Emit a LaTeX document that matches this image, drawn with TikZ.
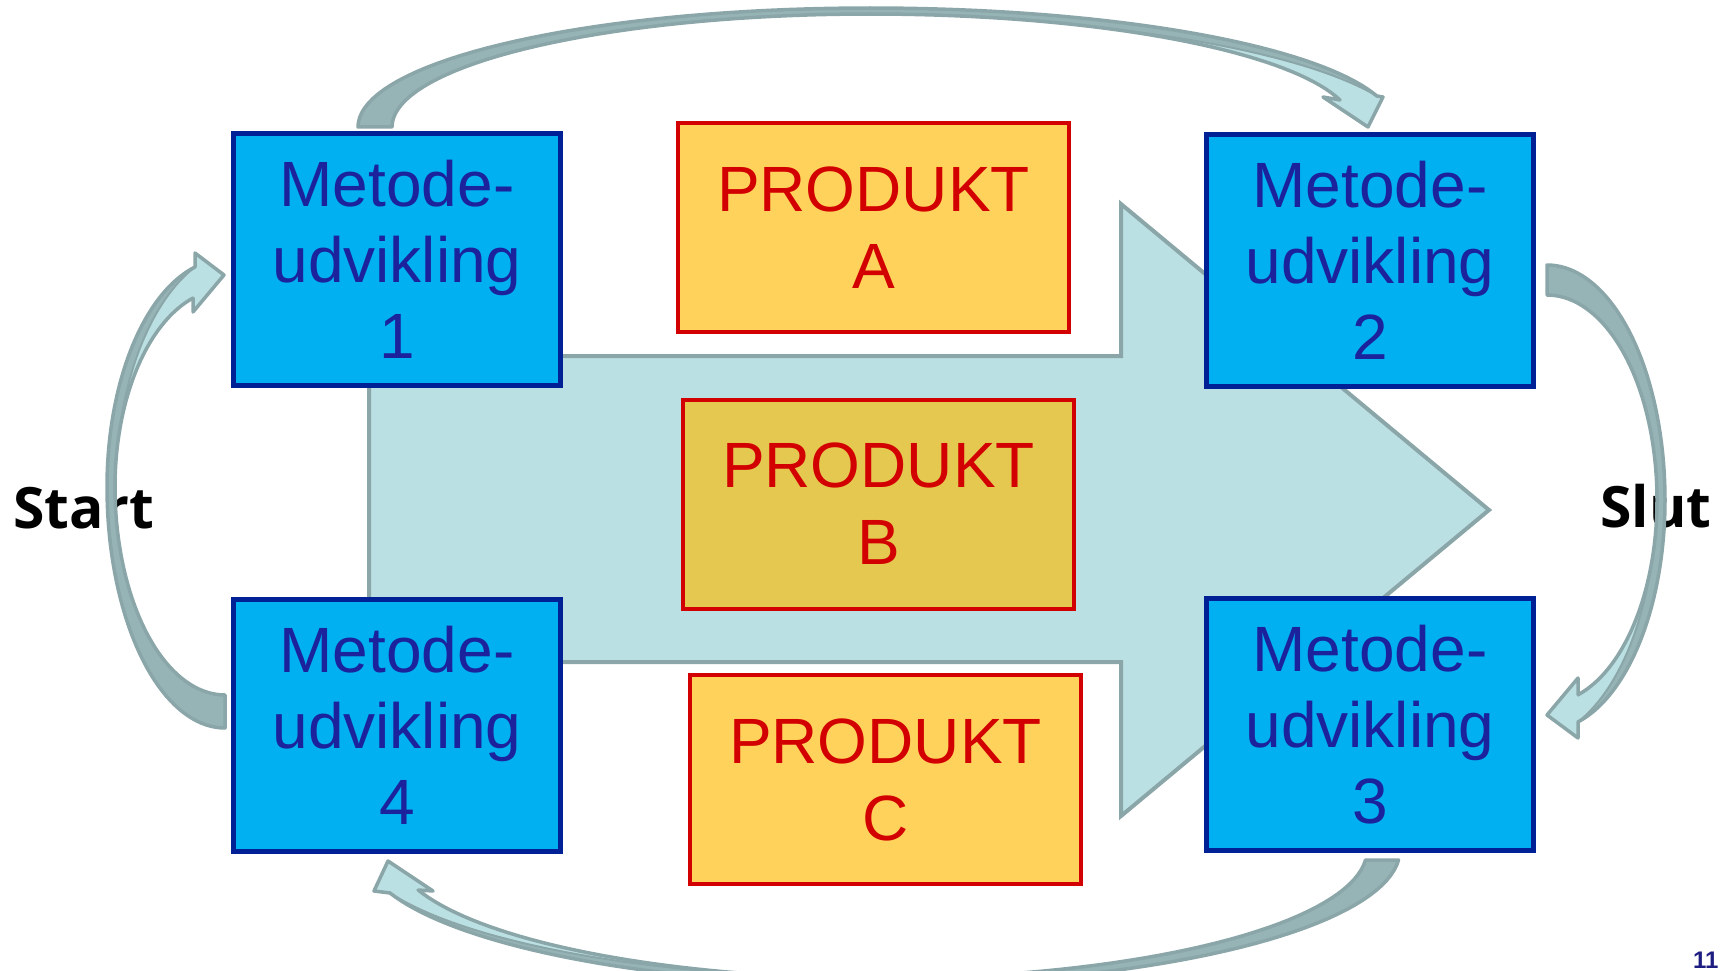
\documentclass[tikz,border=0pt]{standalone}
\usepackage{fontspec}
\setmainfont{Liberation Sans}
\newfontfamily\labelfont{Open Sans}
\definecolor{mboxfill}{RGB}{0,176,240}
\definecolor{mboxline}{RGB}{0,32,150}
\definecolor{mtext}{RGB}{28,34,155}
\definecolor{pfill}{RGB}{255,211,91}
\definecolor{pfillB}{RGB}{229,200,80}
\definecolor{pline}{RGB}{210,0,0}
\definecolor{ptext}{RGB}{210,0,0}
\definecolor{afill}{RGB}{187,224,228}
\definecolor{aline}{RGB}{139,166,168}
\definecolor{adark}{RGB}{150,180,182}
\definecolor{pagenum}{RGB}{30,30,130}

% top curved arrow
\def\TopBand{plot[domain=180:90,samples=40] ({870+512*cos(\x)},{127-119*sin(\x)})
 -- plot[domain=90:15.1,samples=40] ({870+525*cos(\x)},{127-119*sin(\x)})
 -- (1383,97) -- (1368,127) -- (1323,97) -- (1340,100)
 -- plot[domain=13.8:90,samples=40] ({870+484*cos(\x)},{127-113*sin(\x)})
 -- plot[domain=90:180,samples=40] ({870+478*cos(\x)},{127-113*sin(\x)}) -- cycle}
\def\TopSeam{plot[domain=0:1,samples=30,variable=\q] ({(1-\q)*(870+484*cos(60-46.2*\q))+\q*(870+525*cos(60-44.9*\q))},{(1-\q)*(127-113*sin(60-46.2*\q))+\q*(127-119*sin(60-44.9*\q))})}
\def\TopLight{\TopSeam -- (1383,97) -- (1368,127) -- (1323,97) -- (1340,100) -- plot[domain=13.8:60,samples=30] ({870+484*cos(\x)},{127-113*sin(\x)}) -- cycle}

% bottom curved arrow
\def\BotBand{plot[domain=-4.25:-90,samples=40] ({880+520*cos(\x)},{850-135*sin(\x)})
 -- plot[domain=-90:-161.43,samples=40] ({880+517*cos(\x)},{850-135*sin(\x)})
 -- (374,891) -- (388,861) -- (433,891) -- (418,890)
 -- plot[domain=-161.86:-90,samples=40] ({880+486*cos(\x)},{850-128.5*sin(\x)})
 -- plot[domain=-90:-4.46,samples=40] ({880+487*cos(\x)},{850-128.5*sin(\x)}) -- cycle}
\def\BotSeam{plot[domain=0:1,samples=30,variable=\q] ({(1-\q)*(880+486*cos(-103-58.86*\q))+\q*(880+517*cos(-103-58.43*\q))},{(1-\q)*(850-128.5*sin(-103-58.86*\q))+\q*(850-135*sin(-103-58.43*\q))})}
\def\BotLight{\BotSeam -- (374,891) -- (388,861) -- (433,891) -- (418,890) -- plot[domain=-161.86:-103,samples=30] ({880+486*cos(\x)},{850-128.5*sin(\x)}) -- cycle}

% left curved arrow
\def\LeftBand{plot[domain=270:180,samples=40] ({225+118*cos(\x)},{487-241*sin(\x)})
 -- plot[domain=180:104.7,samples=40] ({225+118*cos(\x)},{487-227.5*sin(\x)})
 -- (195,253) -- (224,275) -- (193,312) -- (193,298)
 -- plot[domain=106.9:180,samples=40] ({225+110*cos(\x)},{487-197.5*sin(\x)})
 -- plot[domain=180:270,samples=40] ({225+110*cos(\x)},{487-208*sin(\x)}) -- cycle}
\def\LeftSeam{plot[domain=0:1,samples=30,variable=\q] ({(1-\q)*(225+110*cos(162.3-55.4*\q))+\q*(225+118*cos(162.3-57.6*\q))},{(1-\q)*(487-197.5*sin(162.3-55.4*\q))+\q*(487-227.5*sin(162.3-57.6*\q))})}
\def\LeftLight{\LeftSeam -- (195,253) -- (224,275) -- (193,312) -- (193,298) -- plot[domain=106.9:162.3,samples=30] ({225+110*cos(\x)},{487-197.5*sin(\x)}) -- cycle}

% right curved arrow
\def\RightBand{plot[domain=90:0,samples=40] ({1547+118*cos(\x)},{500-235*sin(\x)})
 -- plot[domain=0:-74.77,samples=40] ({1547+118*cos(\x)},{500-230*sin(\x)})
 -- (1578,738) -- (1547,715) -- (1578,678) -- (1578,695)
 -- plot[domain=-73.63:0,samples=40] ({1547+110*cos(\x)},{500-203*sin(\x)})
 -- plot[domain=0:90,samples=40] ({1547+110*cos(\x)},{500-205*sin(\x)}) -- cycle}
\def\RightSeam{plot[domain=0:1,samples=30,variable=\q] ({(1-\q)*(1547+110*cos(-21.08-52.55*\q))+\q*(1547+118*cos(-21.08-53.69*\q))},{(1-\q)*(500-203*sin(-21.08-52.55*\q))+\q*(500-230*sin(-21.08-53.69*\q))})}
\def\RightLight{\RightSeam -- (1578,738) -- (1547,715) -- (1578,678) -- (1578,695) -- plot[domain=-73.63:-21.08,samples=30] ({1547+110*cos(\x)},{500-203*sin(\x)}) -- cycle}

\begin{document}
\begin{tikzpicture}[x=1pt,y=-1pt,
  metbox/.style={draw=mboxline, line width=5pt, fill=mboxfill, minimum width=327pt, minimum height=252pt, inner sep=0pt, align=center, text=mtext, font=\fontsize{64}{76}\selectfont},
  prodbox/.style={draw=pline, line width=4pt, fill=pfill, minimum width=391pt, minimum height=209pt, inner sep=0pt, align=center, text=ptext, font=\fontsize{64}{77}\selectfont},
  sidelabel/.style={font=\labelfont\bfseries\fontsize{57}{68}\selectfont, text=black, inner sep=0pt, anchor=base west},
  bigarrow/.style={fill=afill, draw=aline, line width=4pt},
  darkpart/.style={fill=adark},
  lightpart/.style={fill=afill},
  seam/.style={draw=aline, line width=2pt},
  rim/.style={draw=aline, line width=3.5pt, line join=round},
]
\useasboundingbox (0,0) rectangle (1729,971);

% big arrow in the background
\draw[bigarrow] (369,356) -- (1121,356) -- (1121,204) -- (1489,510) -- (1121,816) -- (1121,662) -- (369,662) -- cycle;

% product boxes
\node[prodbox] (pa) at (873.5,227.5) {PRODUKT\\A};
\node[prodbox, fill=pfillB] (pb) at (878.5,504) {PRODUKT\\B};
\node[prodbox] (pc) at (885.5,779.5) {PRODUKT\\C};

% method boxes
\node[metbox] (m1) at (397,259.5) {Metode-\\udvikling\\1};
\node[metbox] (m2) at (1370,260.5) {Metode-\\udvikling\\2};
\node[metbox] (m3) at (1370,724.5) {Metode-\\udvikling\\3};
\node[metbox] (m4) at (397,725.5) {Metode-\\udvikling\\4};

% labels
\node[sidelabel] (start) at (13,528) {Start};
\node[sidelabel] (slut) at (1600,527) {Slut};
\node[anchor=base west, inner sep=0pt, text=pagenum, font=\bfseries\fontsize{24}{24}\selectfont] (pnum) at (1693,968) {11};

% curved arrows
\fill[darkpart] \TopBand;
\fill[lightpart] \TopLight;
\draw[seam] \TopSeam;
\draw[rim] \TopBand;

\fill[darkpart] \BotBand;
\fill[lightpart] \BotLight;
\draw[seam] \BotSeam;
\draw[rim] \BotBand;

\fill[darkpart] \LeftBand;
\fill[lightpart] \LeftLight;
\draw[seam] \LeftSeam;
\draw[rim] \LeftBand;

\fill[darkpart] \RightBand;
\fill[lightpart] \RightLight;
\draw[seam] \RightSeam;
\draw[rim] \RightBand;
\end{tikzpicture}
\end{document}
